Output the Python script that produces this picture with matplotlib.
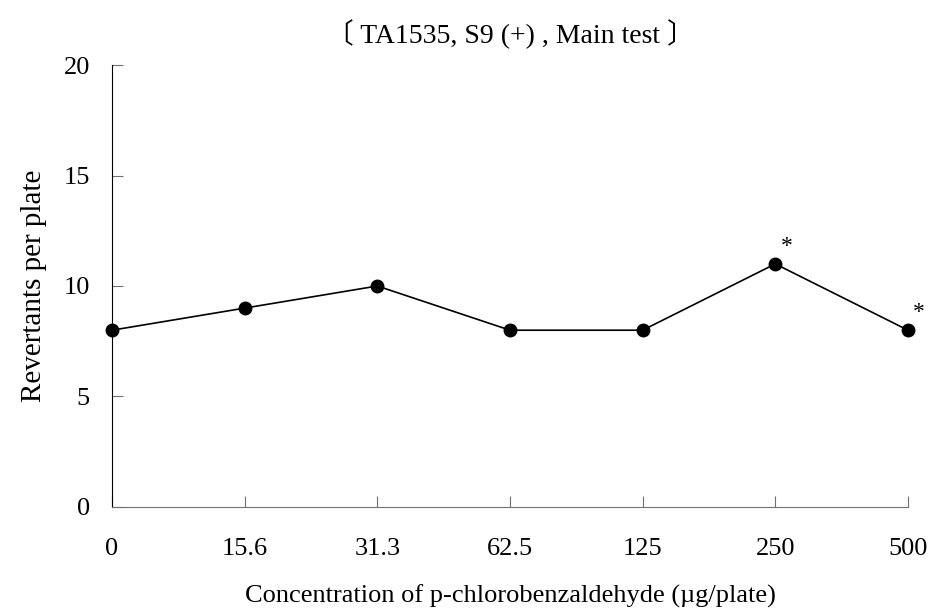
import matplotlib

matplotlib.use("Agg")
import matplotlib.pyplot as plt

# data
conc_labels = ["0", "15.6", "31.3", "62.5", "125", "250", "500"]
revertants = [8, 9, 10, 8, 8, 11, 8]
significant = [False, False, False, False, False, True, True]

y_ticks = [0, 5, 10, 15, 20]

plt.rcParams["font.family"] = ["Liberation Serif", "Noto Sans CJK JP"]

fig = plt.figure(figsize=(9.32, 6.10), dpi=100)
ax = fig.add_axes([0.1202, 0.1689, 0.8540, 0.7245])

x = list(range(len(conc_labels)))
ax.plot(x, revertants, "-o", color="black", lw=1.2, ms=9, clip_on=False, zorder=3)

for xi, yi, sig in zip(x, revertants, significant):
    if sig:
        ax.annotate("*", (xi, yi), xytext=(8, 5), textcoords="offset points",
                    fontsize=17, ha="center", va="bottom")

ax.set_xlim(0, len(conc_labels) - 1)
ax.set_ylim(0, 20)
ax.set_yticks(y_ticks)
ax.set_xticks(x)
ax.set_xticklabels(conc_labels)

for s in ("top", "right"):
    ax.spines[s].set_visible(False)
ax.spines["left"].set_color("black")
ax.spines["bottom"].set_color("#707070")
ax.tick_params(axis="both", direction="in", length=8, colors="#707070",
               labelcolor="black", labelsize=19)
ax.tick_params(axis="x", pad=22)
ax.tick_params(axis="y", pad=16)

ax.set_ylabel("Revertants per plate", fontsize=21, labelpad=12)
ax.set_xlabel("Concentration of p-chlorobenzaldehyde (\u00b5g/plate)",
              fontsize=19, labelpad=18)
ax.set_title("\u3014 TA1535, S9 (+) , Main test \u3015", fontsize=20, pad=16)

fig.savefig("out.png", dpi=100)
